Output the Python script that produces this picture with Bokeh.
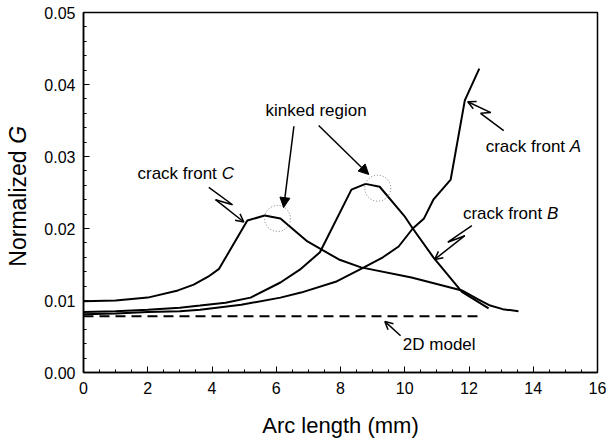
import math
from bokeh.plotting import figure
from bokeh.layouts import row
from bokeh.models import (FixedTicker, NumeralTickFormatter, Label, Arrow,
                          NormalHead, OpenHead, Range1d)
from bokeh.embed import file_html
from bokeh.resources import INLINE

FONT = "Liberation Sans"

# ---- data ----
# crack front A
a_x = [0.0, 1.0, 2.0, 3.0, 3.63, 4.91, 6.13, 6.77, 7.85, 8.73, 9.32, 9.81, 10.25, 10.6, 10.89, 11.43, 11.87, 12.32]
a_y = [0.0081, 0.0082, 0.0084, 0.0085, 0.0087, 0.0094, 0.0104, 0.0111, 0.0126, 0.0146, 0.0160, 0.0175,
       0.0200, 0.0214, 0.0240, 0.0268, 0.0378, 0.0422]
# crack front B
b_x = [0.0, 1.0, 2.0, 3.0, 3.63, 4.42, 5.2, 6.13, 6.77, 7.36, 8.34, 8.78, 9.22, 10.01, 10.25, 10.89, 11.78, 12.61]
b_y = [0.0084, 0.0085, 0.0087, 0.0090, 0.0093, 0.0097, 0.0104, 0.0125, 0.0144, 0.0167, 0.0254, 0.0262,
       0.0258, 0.0216, 0.0200, 0.0160, 0.0112, 0.0089]
# crack front C
c_x = [0.0, 1.0, 2.0, 2.94, 3.43, 3.88, 4.22, 5.1, 5.64, 6.13, 6.97, 7.95, 8.64, 10.21, 11.78, 12.27, 12.66, 13.05, 13.54]
c_y = [0.0099, 0.0100, 0.0104, 0.0114, 0.0122, 0.0133, 0.0144, 0.0211, 0.0218, 0.0214, 0.0182, 0.0157,
       0.0146, 0.0132, 0.0114, 0.0102, 0.0093, 0.0088, 0.0085]
# 2D model
m_x = [0.0, 12.27]
m_y = [0.0078, 0.0078]

x_ticks = [0, 2, 4, 6, 8, 10, 12, 14, 16]
y_ticks = [0.0, 0.01, 0.02, 0.03, 0.04, 0.05]

y_range = Range1d(0, 0.05)

# ---- narrow strip holding the y-axis title (with italic G) ----
yt = figure(width=40, height=447, output_backend="svg", toolbar_location=None,
            x_range=Range1d(0, 40), y_range=y_range,
            x_axis_type=None, y_axis_type=None, min_border=0)
yt.grid.visible = False
yt.outline_line_color = None
yt.border_fill_color = "white"
yt.background_fill_color = "white"
yt.add_layout(Label(x=17, y=0.0147, text="Normalized ", text_font=FONT, text_font_size="23px",
                    text_align="left", text_baseline="middle", angle=math.pi / 2, text_color="black"))
yt.add_layout(Label(x=17, y=0.0147 + 123 / 7200, text="G", text_font=FONT, text_font_size="23px",
                    text_font_style="italic", text_align="left", text_baseline="middle",
                    angle=math.pi / 2, text_color="black"))

# ---- main chart ----
p = figure(width=569, height=447, output_backend="svg", toolbar_location=None,
           x_range=Range1d(0, 16), y_range=y_range,
           min_border_left=43, min_border_right=12, min_border_top=12, min_border_bottom=75)
p.grid.visible = False
p.outline_line_color = "black"
p.outline_line_width = 1.5
p.background_fill_color = "white"
p.border_fill_color = "white"

p.xaxis.ticker = FixedTicker(ticks=x_ticks, minor_ticks=[i * 0.5 for i in range(33)])
p.yaxis.ticker = FixedTicker(ticks=y_ticks, minor_ticks=[i * 0.002 for i in range(26)])
p.yaxis.formatter = NumeralTickFormatter(format="0.00")
p.xaxis.formatter = NumeralTickFormatter(format="0")
for ax in (p.xaxis, p.yaxis):
    ax.major_tick_in = 6
    ax.major_tick_out = 0
    ax.minor_tick_in = 3
    ax.minor_tick_out = 0
    ax.axis_line_width = 1.5
    ax.major_tick_line_width = 1
    ax.minor_tick_line_width = 1
    ax.major_label_text_font = FONT
    ax.major_label_text_font_size = "16px"
    ax.major_label_text_color = "black"
    ax.axis_label_text_font = FONT
    ax.axis_label_text_font_style = "normal"
    ax.axis_label_text_font_size = "22px"
    ax.axis_label_text_color = "black"
p.xaxis.major_label_standoff = 9
p.yaxis.major_label_standoff = 8
p.xaxis.axis_label = "Arc length (mm)"
p.xaxis.axis_label_standoff = 16

# curves
p.line(a_x, a_y, line_color="black", line_width=2)
p.line(b_x, b_y, line_color="black", line_width=2)
p.line(c_x, c_y, line_color="black", line_width=2)
p.line(m_x, m_y, line_color="black", line_width=2, line_dash="10 6")

# dotted circles at kinks
p.scatter([6.04, 9.16], [0.0214, 0.0256], marker="circle", size=26, fill_color=None,
          line_color="#777777", line_width=1, line_dash="1 2")

def lab(x, y, t, style="normal", align="left", size="17px"):
    p.add_layout(Label(x=x, y=y, text=t, text_font=FONT, text_font_size=size,
                       text_font_style=style, text_align=align, text_baseline="middle",
                       text_color="black"))

lab(7.24, 0.0364, "kinked region", align="center")
lab(1.68, 0.0276, "crack front ")
lab(4.30, 0.0276, "C", style="italic")
lab(12.52, 0.0314, "crack front ")
lab(15.14, 0.0314, "A", style="italic")
lab(11.81, 0.0221, "crack front ")
lab(14.43, 0.0221, "B", style="italic")
lab(9.94, 0.0039, "2D model")

# kinked region arrows
for xs, ys, xe, ye in [(6.55, 0.0342, 6.23, 0.0229), (7.32, 0.0343, 8.88, 0.0275)]:
    p.add_layout(Arrow(x_start=xs, y_start=ys, x_end=xe, y_end=ye, line_width=1.5,
                       end=NormalHead(size=10, fill_color="black", line_color="black")))

# zigzag arrows
zig = [
    ([3.90, 4.64, 4.11], [0.0257, 0.0233, 0.0240], (4.99, 0.0209)),
    ([13.08, 12.36, 12.68], [0.0336, 0.0360, 0.0361], (11.96, 0.0376)),
    ([12.09, 11.34, 11.87], [0.0204, 0.0181, 0.0190], (10.93, 0.0157)),
]
for zx, zy, (tx, ty) in zig:
    p.line(zx, zy, line_color="black", line_width=1.5)
    p.add_layout(Arrow(x_start=zx[-1], y_start=zy[-1], x_end=tx, y_end=ty, line_width=1.5,
                       end=OpenHead(size=8, line_width=1.5)))

p.add_layout(Arrow(x_start=9.87, y_start=0.0051, x_end=9.38, y_end=0.0071, line_width=1.5,
                   end=OpenHead(size=8, line_width=1.5)))

layout = row(yt, p, spacing=0)
open("out.html", "w").write(file_html(layout, INLINE))
